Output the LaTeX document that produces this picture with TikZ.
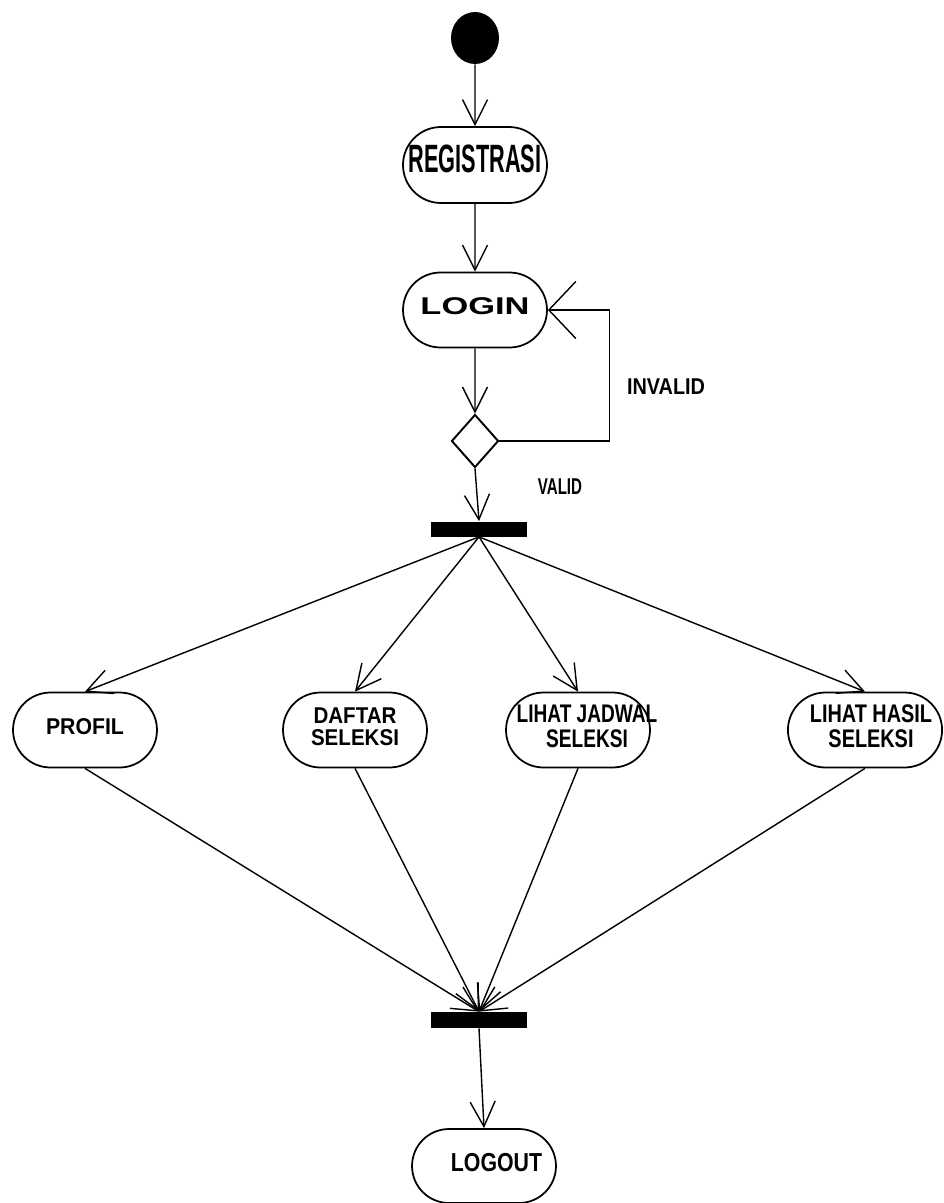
\documentclass[tikz,border=0pt]{standalone}
\usepackage{fontspec}
\setmainfont{Liberation Sans}
\usepackage{graphicx}
\usepackage{tikz}
\usetikzlibrary{arrows.meta}
\usetikzlibrary{shapes.geometric}
\usetikzlibrary{shapes.misc}

\newcommand{\lbl}[3]{\scalebox{#2}[1]{\fontsize{#1}{#1}\selectfont\bfseries\begin{tabular}{@{}c@{}}#3\end{tabular}}}

\tikzset{
    act/.style={shape=rounded rectangle, draw, line width=1pt, minimum width=2.88cm, minimum height=1.5cm, inner sep=0pt},
    bar/.style={shape=rectangle, fill=black, minimum width=1.94cm, minimum height=0.3cm, inner sep=0pt},
    flow/.style={line width=0.8pt, -{Straight Barb[length=0.5cm, width=0.5cm, line width=0.8pt]}},
    backflow/.style={line width=0.8pt, -{Straight Barb[length=0.54cm, width=1.14cm, line width=0.8pt]}}
}

\begin{document}
\begin{tikzpicture}[x=0.02cm, y=-0.02cm]
    \useasboundingbox (0,0) rectangle (943,1203);

    \node[shape=ellipse, fill=black, minimum width=0.96cm, minimum height=1.04cm, inner sep=0pt] (start) at (475,38) {};
    \node[act, minimum height=1.52cm] (reg) at (475,165) {\lbl{22.5}{0.55}{REGISTRASI}};
    \node[act] (login) at (475,310) {\lbl{13.8}{1.42}{LOGIN}};
    \node[shape=diamond, draw, line width=1.1pt, minimum width=0.94cm, minimum height=1.06cm, inner sep=0pt] (cek) at (475,441) {};
    \node[bar] (fork) at (479,529) {};

    \node[act] (prof) at (85,730) {\lbl{13}{0.93}{PROFIL}};
    \node[act] (daftar) at (355,730) {\lbl{13}{0.9}{DAFTAR\\SELEKSI}};
    \node[act] (jadwal) at (578,730) {\makebox[0pt]{\hspace*{0.36cm}\lbl{14.5}{0.75}{LIHAT JADWAL\\SELEKSI}}};
    \node[act] (hasil) at (865,730) {\hspace*{0.24cm}\lbl{14.5}{0.78}{LIHAT HASIL\\SELEKSI}};

    \node[bar, minimum height=0.32cm] (join) at (479,1020) {};
    \node[act, minimum height=1.48cm] (logout) at (484,1166) {\hspace*{0.5cm}\lbl{14.8}{0.82}{LOGOUT}};

    \node (invalid) at (666,390) {\lbl{13}{0.87}{INVALID}};
    \node (valid) at (560,490) {\lbl{13}{0.66}{VALID}};

    \draw[flow] (start) -- (reg);
    \draw[flow] (reg) -- (login);
    \draw[flow] (login) -- (cek);
    \draw[flow] (cek.south) -- (fork.north);
    \draw[backflow] (cek.east) -- ++(110,0) |- (login.east);

    \draw[flow] (fork.south) -- (prof.north);
    \draw[flow] (fork.south) -- (daftar.north);
    \draw[flow] (fork.south) -- (jadwal.north);
    \draw[flow] (fork.south) -- (hasil.north);

    \draw[flow] (prof.south) -- (join.north);
    \draw[flow] (daftar.south) -- (join.north);
    \draw[flow] (jadwal.south) -- (join.north);
    \draw[flow] (hasil.south) -- (join.north);

    \draw[flow] (join.south) -- (logout.north);

\end{tikzpicture}
\end{document}
